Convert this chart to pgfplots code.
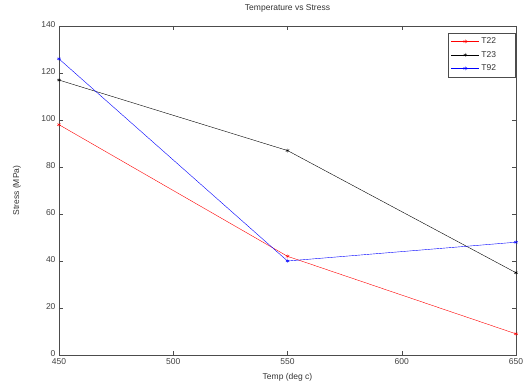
\documentclass[border=0pt]{standalone}
\usepackage{pgfplots}
\pgfplotsset{compat=1.18}
\usepackage{fontspec}
\setmainfont{Liberation Sans}
\begin{document}
\begin{tikzpicture}
\path[use as bounding box] (-59pt,-30pt) rectangle (465pt,355pt);
\begin{axis}[
  at={(0,0)}, anchor=south west,
  scale only axis,
  width=457pt, height=329pt,
  xmin=450, xmax=650, ymin=0, ymax=140,
  xtick={450,500,550,600,650},
  ytick={0,20,40,60,80,100,120,140},
  tick align=inside,
  tick style={black!70, thin},
  major tick length=4pt,
  /pgf/number format/assume math mode=true,
  /pgf/number format/1000 sep={},
  ticklabel style={font=\fontsize{8.5}{9}\selectfont, color=black!75},
  xticklabel style={yshift=0pt},
  yticklabel style={yshift=1pt},
  title={Temperature vs Stress},
  title style={font=\fontsize{8.5}{9}\selectfont, color=black!80, at={(axis description cs:0.5,1.036)}, anchor=center},
  xlabel={Temp (deg c)},
  ylabel={Stress (MPa)},
  label style={font=\fontsize{8.5}{9}\selectfont, color=black!80},
  xlabel style={at={(axis description cs:0.5,-0.067)}, anchor=center},
  ylabel style={at={(axis description cs:-0.092,0.5)}, anchor=center},
  axis line style={black!70},
  legend style={at={(0.9985,0.98)}, anchor=north east, font=\fontsize{8.5}{9}\selectfont, text=black!80, draw=black!70, inner xsep=3pt, inner ysep=3pt, row sep=2pt},
  legend cell align=left,
  legend image code/.code={\draw[#1] (0cm,0cm) -- (28pt,0cm); \draw[#1, mark repeat=1] plot coordinates {(14pt,0cm)};},
  every axis plot/.append style={thin, mark=asterisk, mark size=2pt},
]
\addplot[red] coordinates {(450,98) (550,42) (650,9)};
\addlegendentry{T22\hspace*{14pt}}
\addplot[black] coordinates {(450,117) (550,87) (650,35)};
\addlegendentry{T23\hspace*{14pt}}
\addplot[blue] coordinates {(450,126) (550,40) (650,48)};
\addlegendentry{T92\hspace*{14pt}}
\end{axis}
\end{tikzpicture}
\end{document}
